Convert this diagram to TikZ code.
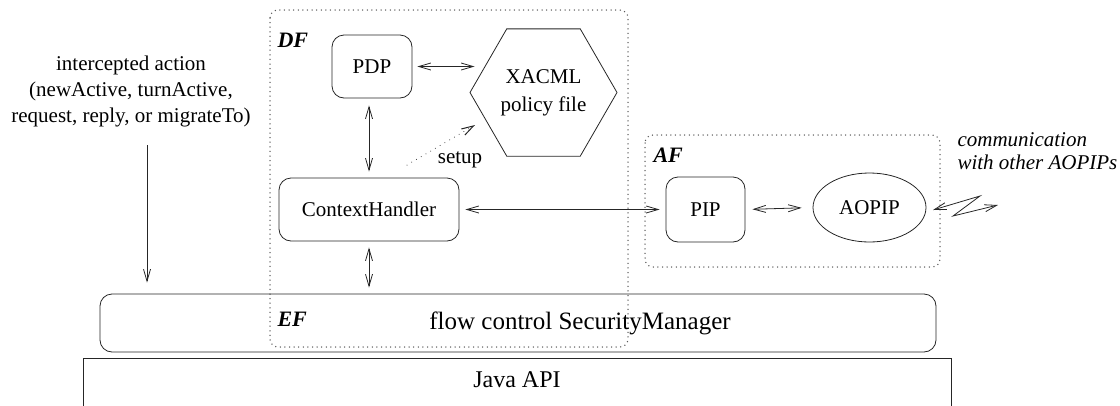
\documentclass[tikz,border=0pt]{standalone}
\usepackage{fontspec}
\setmainfont{Liberation Serif}
\usetikzlibrary{arrows.meta,shapes.geometric}
\begin{document}
\begin{tikzpicture}[x=1pt,y=-1pt,
  every node/.style={font=\fontsize{21}{26}\selectfont, text=black},
  box/.style={draw=black!85, rounded corners=12pt, line width=0.8pt, inner sep=0pt},
  link/.style={draw=black!85, line width=0.8pt, {Straight Barb[length=12pt,width=7pt]}-{Straight Barb[length=12pt,width=7pt]}},
  oneway/.style={draw=black!85, line width=0.8pt, -{Straight Barb[length=12pt,width=7pt]}},
  group/.style={draw=black!65, line width=1.5pt, line cap=round, dash pattern=on 0pt off 4.6pt, rounded corners=8pt},
  grouplabel/.style={anchor=west, font=\fontsize{22}{26}\selectfont\bfseries\itshape},
]
\useasboundingbox (0,0) rectangle (1120,405);
\clip (0,0) rectangle (1120,405);

% dotted groupings
\draw[group] (270,10) rectangle (628,347);
\draw[group] (645,135) rectangle (940,267);
\node[grouplabel] (df) at (274,40) {DF};
\node[grouplabel] (ef) at (274,319) {EF};
\node[grouplabel] (af) at (650,155) {AF};

% components
\node[box, minimum width=80pt, minimum height=63pt] (pdp) at (372,66.5) {PDP};
\node[box, minimum width=180pt, minimum height=63pt] (ch) at (369,209.5) {ContextHandler};
\node[draw=black!85, line width=0.8pt, regular polygon, regular polygon sides=6,
      minimum size=147pt, inner sep=0pt, align=center,
      font=\fontsize{21}{26}\selectfont] (xacml) at (543.5,92.5) {XACML\\[2pt]policy file};
\node[box, minimum width=79pt, minimum height=65pt] (pip) at (705.5,209.5) {PIP};
\node[draw=black!85, line width=0.8pt, ellipse, minimum width=113pt, minimum height=69pt,
      inner sep=0pt] (aopip) at (869.5,207.5) {AOPIP};

% platform layers
\node[box, minimum width=836pt, minimum height=58pt] (sm) at (518,323) {};
\node[font=\fontsize{25}{30}\selectfont] (smtext) at (580,323) {flow control SecurityManager};
\node[draw=black!85, line width=0.8pt, minimum width=868pt, minimum height=80pt,
      inner sep=0pt, anchor=north] (java) at (517,358) {};
\node[font=\fontsize{24}{28}\selectfont] (javatext) at (517,380) {Java API};

% intercepted actions
\node[align=center] (intercept) at (131,91) {intercepted action\\(newActive, turnActive,\\request, reply, or migrateTo)};
\draw[oneway, shorten >=11pt] ([xshift=16pt]intercept.south |- 0,145) coordinate (ia)
  -- (ia |- sm.north);

% connectors
\draw[link, shorten <=5pt, shorten >=-5pt] (pdp.east) -- (xacml.west |- pdp.east);
\draw[link, shorten <=7pt, shorten >=6pt] (ch.north |- pdp.south) -- (ch.north);
\draw[link, shorten <=6pt, shorten >=6pt] (ch.south) -- (ch.south |- sm.north);
\draw[link, shorten <=6pt, shorten >=6pt] (ch.east) -- (pip.west);
\draw[link, shorten <=7pt, shorten >=11pt] (pip.east) -- (aopip.west);

% policy setup
\coordinate (setupA) at (407,165);
\coordinate (setupB) at (475,125);
\draw[draw=black!85, line width=1pt, line cap=round, dash pattern=on 0pt off 5.5pt,
      -{Straight Barb[length=12pt,width=7pt,line cap=butt]}] (setupA) -- (setupB);
\node (setup) at (460,160) {setup};

% communication with remote peers
\coordinate (z1) at (933,210);
\coordinate (z2) at (980,196);
\coordinate (z3) at (953,216);
\coordinate (z4) at (998,205);
\draw[link] (z1) -- (z2) -- (z3) -- (z4);
\node[anchor=west, align=left, font=\fontsize{21}{23}\selectfont\itshape] (comm) at (954,151.5)
  {communication\\with other AOPIPs};
\end{tikzpicture}
\end{document}
